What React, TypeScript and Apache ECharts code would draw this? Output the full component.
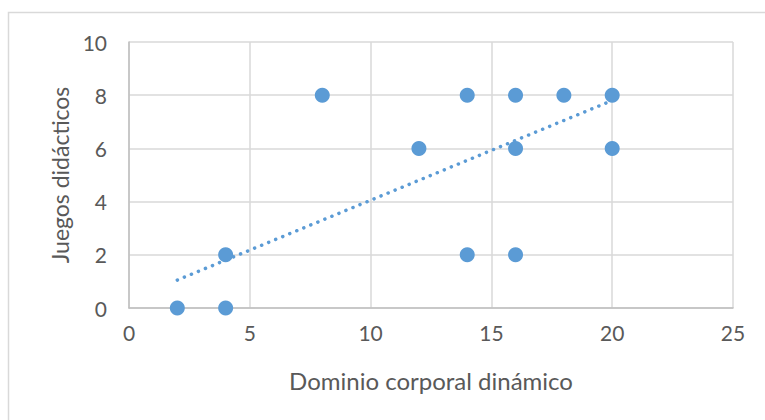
import React, { useEffect, useRef } from "react";
import * as echarts from "echarts";

const points: [number, number][] = [
  [2, 0], [4, 0], [4, 2], [8, 8], [12, 6], [14, 8], [14, 2],
  [16, 8], [16, 6], [16, 2], [18, 8], [20, 8], [20, 6],
];
const trendLine: [number, number][] = [[2, 1.05], [20, 7.8]];
const xName = "Dominio corporal dinámico";
const yName = "Juegos didácticos";

export default function App() {
  const ref = useRef<HTMLDivElement>(null);
  useEffect(() => {
    const chart = echarts.init(ref.current!, null, { renderer: "svg" });
    const font = "Lato, 'Open Sans', sans-serif";
    chart.setOption({
      animation: false,
      textStyle: { fontFamily: font },
      graphic: [
        {
          type: "rect",
          shape: { x: 8.5, y: 12.5, width: 900, height: 600 },
          style: { fill: "none", stroke: "#d9d9d9", lineWidth: 1.5 },
          silent: true,
        },
      ],
      grid: { left: 129, right: 32, top: 42, bottom: 112 },
      xAxis: {
        type: "value",
        min: 0, max: 25, interval: 5,
        name: xName,
        nameLocation: "middle",
        nameGap: 60,
        nameTextStyle: { color: "#595959", fontSize: 24, fontFamily: font },
        axisLine: { show: true, lineStyle: { color: "#bfbfbf", width: 1.5 } },
        axisTick: { show: false },
        axisLabel: { color: "#595959", fontSize: 21, margin: 14, fontFamily: font },
        splitLine: { show: true, lineStyle: { color: "#d9d9d9", width: 1.5 } },
      },
      yAxis: {
        type: "value",
        min: 0, max: 10, interval: 2,
        name: yName,
        nameLocation: "middle",
        nameGap: 56,
        nameTextStyle: { color: "#595959", fontSize: 23, fontFamily: font },
        axisLine: { show: true, lineStyle: { color: "#bfbfbf", width: 1.5 } },
        axisTick: { show: false },
        axisLabel: { color: "#595959", fontSize: 21, margin: 22, fontFamily: font },
        splitLine: { show: true, lineStyle: { color: "#d9d9d9", width: 1.5 } },
      },
      series: [
        {
          type: "line",
          data: trendLine,
          symbol: "none",
          lineStyle: { color: "#5b9bd5", width: 3.5, type: [0.1, 7.5], cap: "round" },
          z: 3,
        },
        {
          type: "scatter",
          data: points,
          symbolSize: 15,
          itemStyle: { color: "#5b9bd5", opacity: 1 },
          z: 4,
        },
      ],
    });
    return () => chart.dispose();
  }, []);
  return (
    <div
      ref={ref}
      style={{ position: "fixed", left: 0, top: 0, width: 765, height: 420, background: "#fff" }}
    />
  );
}
